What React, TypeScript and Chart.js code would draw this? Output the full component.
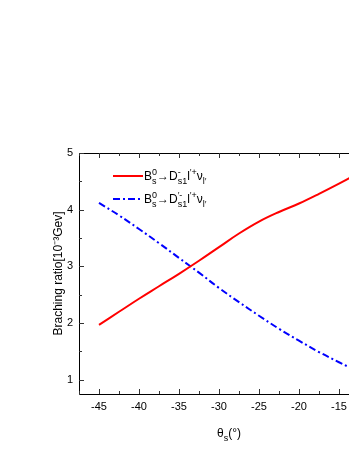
import React, { useEffect, useRef } from "react";
import { Chart, registerables } from "chart.js";

Chart.register(...registerables);

const angles = [-45, -42.5, -40, -37.5, -35, -32.5, -30, -27.5, -25, -22.5, -20, -17.5, -15, -12.5];
const redValues = [1.97, 2.2, 2.43, 2.65, 2.87, 3.1, 3.34, 3.58, 3.79, 3.96, 4.11, 4.28, 4.46, 4.65];
const blueValues = [4.12, 3.9, 3.66, 3.41, 3.15, 2.89, 2.62, 2.37, 2.13, 1.9, 1.69, 1.49, 1.31, 1.14];
const xTickValues = [-47.5, -45, -42.5, -40, -37.5, -35, -32.5, -30, -27.5, -25, -22.5, -20, -17.5, -15, -12.5];
const yTickValues = [1, 1.5, 2, 2.5, 3, 3.5, 4, 4.5, 5];
const xLabelValues = [-45, -40, -35, -30, -25, -20, -15];
const yLabelValues = [1, 2, 3, 4, 5];

const FONT = "'Liberation Sans', Arial, sans-serif";

type Part = { t?: string; sup?: string; sub?: string };

function richWidth(ctx: CanvasRenderingContext2D, parts: Part[], base: number, small: number) {
  let w = 0;
  for (const p of parts) {
    if (p.t) {
      ctx.font = `${base}px ${FONT}`;
      w += ctx.measureText(p.t).width;
    } else {
      ctx.font = `${small}px ${FONT}`;
      w += Math.max(p.sup ? ctx.measureText(p.sup).width : 0, p.sub ? ctx.measureText(p.sub).width : 0);
    }
  }
  return w;
}

function drawRich(ctx: CanvasRenderingContext2D, x: number, y: number, parts: Part[], base: number, small: number, color: string) {
  ctx.fillStyle = color;
  ctx.textBaseline = "alphabetic";
  ctx.textAlign = "left";
  let cx = x;
  for (const p of parts) {
    if (p.t) {
      ctx.font = `${base}px ${FONT}`;
      ctx.fillText(p.t, cx, y);
      cx += ctx.measureText(p.t).width;
    } else {
      ctx.font = `${small}px ${FONT}`;
      let w = 0;
      if (p.sup) {
        ctx.fillText(p.sup, cx, y - base * 0.38);
        w = Math.max(w, ctx.measureText(p.sup).width);
      }
      if (p.sub) {
        ctx.fillText(p.sub, cx, y + base * 0.3);
        w = Math.max(w, ctx.measureText(p.sub).width);
      }
      cx += w;
    }
  }
}

const legend1: Part[] = [{ t: "B" }, { sup: "0", sub: "s" }, { t: "→D" }, { sup: "-", sub: "s1" }, { t: "l" }, { sup: "′+" }, { t: "ν" }, { sub: "l′" }];
const legend2: Part[] = [{ t: "B" }, { sup: "0", sub: "s" }, { t: "→D" }, { sup: "′-", sub: "s1" }, { t: "l" }, { sup: "′+" }, { t: "ν" }, { sub: "l′" }];
const xTitle: Part[] = [{ t: "θ" }, { sub: "s" }, { t: "(°)" }];

const framePlugin = {
  id: "frame",
  afterDraw(chart: any) {
    const ctx: CanvasRenderingContext2D = chart.ctx;
    const { left, right, top, bottom } = chart.chartArea;
    const xs = chart.scales.x;
    const ys = chart.scales.y;
    ctx.save();
    ctx.strokeStyle = "#000";
    ctx.lineWidth = 1;
    ctx.beginPath();
    ctx.moveTo(left + 0.5, top + 0.5);
    ctx.lineTo(right, top + 0.5);
    ctx.moveTo(left + 0.5, top);
    ctx.lineTo(left + 0.5, bottom + 0.5);
    ctx.lineTo(right, bottom + 0.5);
    ctx.stroke();
    ctx.strokeStyle = "#333";
    ctx.beginPath();
    for (const v of xTickValues) {
      const px = Math.round(xs.getPixelForValue(v)) + 0.5;
      const len = xLabelValues.includes(v) ? 5 : 3;
      ctx.moveTo(px, bottom);
      ctx.lineTo(px, bottom - len);
      ctx.moveTo(px, top);
      ctx.lineTo(px, top + len);
    }
    for (const v of yTickValues) {
      const py = Math.round(ys.getPixelForValue(v)) + 0.5;
      const len = yLabelValues.includes(v) ? 5 : 3;
      ctx.moveTo(left, py);
      ctx.lineTo(left + len, py);
    }
    ctx.stroke();

    // legend
    ctx.lineWidth = 2;
    ctx.strokeStyle = "#ff0000";
    ctx.beginPath();
    ctx.moveTo(113, 176);
    ctx.lineTo(143, 176);
    ctx.stroke();
    ctx.strokeStyle = "#0000ff";
    ctx.setLineDash([7, 3, 2, 3]);
    ctx.beginPath();
    ctx.moveTo(113, 199);
    ctx.lineTo(143, 199);
    ctx.stroke();
    ctx.setLineDash([]);
    drawRich(ctx, 144, 180, legend1, 12, 9, "#000");
    drawRich(ctx, 144, 203, legend2, 12, 9, "#000");

    // x title
    const w = richWidth(ctx, xTitle, 12, 9);
    drawRich(ctx, 229 - w / 2, 437, xTitle, 12, 9, "#000");

    // y title
    ctx.translate(62, 273.5);
    ctx.rotate(-Math.PI / 2);
    ctx.font = `12px ${FONT}`;
    ctx.fillStyle = "#000";
    ctx.textAlign = "center";
    ctx.textBaseline = "alphabetic";
    ctx.fillText("Braching ratio[10⁻³Gev]", 0, 0);
    ctx.restore();
  },
};

export default function App() {
  const ref = useRef<HTMLCanvasElement>(null);
  useEffect(() => {
    if (!ref.current) return;
    const chart = new Chart(ref.current, {
      type: "line",
      data: {
        datasets: [
          {
            label: "red",
            data: angles.map((a, i) => ({ x: a, y: redValues[i] })),
            borderColor: "#ff0000",
            borderWidth: 2,
            pointRadius: 0,
            tension: 0.4,
            fill: false,
          },
          {
            label: "blue",
            data: angles.map((a, i) => ({ x: a, y: blueValues[i] })),
            borderColor: "#0000ff",
            borderWidth: 2,
            borderDash: [7, 3, 2, 3],
            pointRadius: 0,
            tension: 0.4,
            fill: false,
          },
        ],
      },
      options: {
        animation: false,
        responsive: false,
        maintainAspectRatio: false,
        layout: { padding: { left: 0, right: 41, top: 153, bottom: 0 } },
        plugins: { legend: { display: false }, tooltip: { enabled: false } },
        scales: {
          x: {
            type: "linear",
            min: -47.5,
            max: -12.5,
            grid: { display: false, drawTicks: false },
            border: { display: false },
            afterFit: (s: any) => {
              s.height = 57;
            },
            afterBuildTicks: (s: any) => {
              s.ticks = xLabelValues.map((v) => ({ value: v }));
            },
            ticks: {
              autoSkip: false,
              maxRotation: 0,
              padding: 6,
              color: "#000",
              font: { family: FONT, size: 11 },
              callback: (v: any) => String(v),
            },
          },
          y: {
            min: 0.75,
            max: 5,
            grid: { display: false, drawTicks: false },
            border: { display: false },
            afterFit: (s: any) => {
              s.width = 79;
            },
            afterBuildTicks: (s: any) => {
              s.ticks = yLabelValues.map((v) => ({ value: v }));
            },
            ticks: {
              padding: 6,
              color: "#000",
              font: { family: FONT, size: 11 },
              callback: (v: any) => String(v),
            },
          },
        },
      },
      plugins: [framePlugin],
    });
    return () => chart.destroy();
  }, []);
  return (
    <div style={{ position: "fixed", left: 0, top: 0, width: 349, height: 451, overflow: "hidden", background: "#fff" }}>
      <canvas ref={ref} width={400} height={451} style={{ width: 400, height: 451, display: "block" }} />
    </div>
  );
}
